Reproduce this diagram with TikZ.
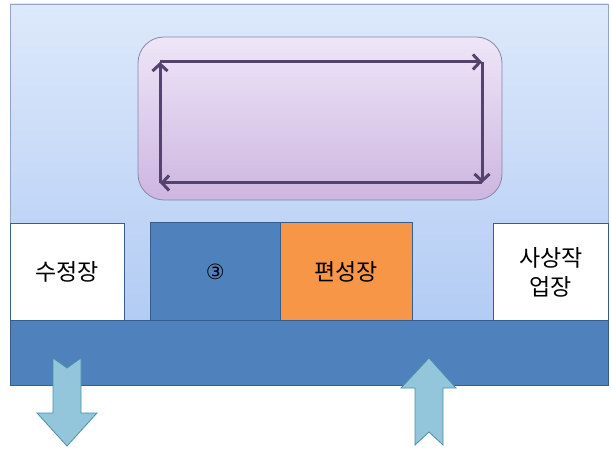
\documentclass[tikz,border=0pt]{standalone}
\usepackage{fontspec}
\setmainfont{Noto Sans CJK KR}
\newfontfamily\symfont{DejaVu Sans}
\usetikzlibrary{arrows.meta}
\definecolor{panelTop}{HTML}{DDE9FB}
\definecolor{panelBot}{HTML}{B3CCF4}
\definecolor{panelEdge}{HTML}{8FA6C8}
\definecolor{purpTop}{HTML}{EEE6F8}
\definecolor{purpBot}{HTML}{CDB6E0}
\definecolor{purpEdge}{HTML}{8E84A8}
\definecolor{loopCol}{HTML}{54426F}
\definecolor{accBlue}{HTML}{4F81BD}
\definecolor{accBlueEdge}{HTML}{385D8A}
\definecolor{accOrange}{HTML}{F79646}
\definecolor{arrFill}{HTML}{93C6DA}
\definecolor{arrEdge}{HTML}{4A8FA8}
\tikzset{
  whitebox/.style={fill=white,draw=accBlueEdge,line width=0.8pt},
  bluebox/.style={fill=accBlue,draw=accBlueEdge,line width=0.8pt},
  orangebox/.style={fill=accOrange,draw=accBlueEdge,line width=0.8pt},
  boxlabel/.style={font=\fontsize{23}{27}\selectfont,align=center,text=black},
  looparrow/.style={draw=loopCol,line width=3pt,-{Straight Barb[length=7pt,width=15pt]}},
  fatarrow/.style={fill=arrFill,draw=arrEdge,line width=0.8pt},
}
\begin{document}
\begin{tikzpicture}[x=1pt,y=-1pt]
\useasboundingbox (0,0) rectangle (611,449);
\fill[white] (0,0) rectangle (611,449);
% outer panel
\shade[top color=panelTop,bottom color=panelBot] (10,4) rectangle (608,320);
\draw[panelEdge,line width=0.8pt] (10,4) rectangle (608,320);
% purple rounded box
\shade[top color=purpTop,bottom color=purpBot,rounded corners=26pt] (138,37) rectangle (502,200);
\draw[purpEdge,line width=0.8pt,rounded corners=26pt] (138,37) rectangle (502,200);
% loop arrows
\coordinate (tl) at (160,62);
\coordinate (tr) at (482,62);
\coordinate (br) at (482,183);
\coordinate (bl) at (160,183);
\draw[looparrow] (tl) -- (tr);
\draw[looparrow] (tr) -- (br);
\draw[looparrow] (br) -- (bl);
\draw[looparrow] (bl) -- (tl);
% boxes
\node[whitebox,minimum width=114pt,minimum height=97pt,anchor=north west,inner sep=0pt] (sj) at (10,223) {};
\node[boxlabel] at (sj.center) {수정장};
\node[bluebox,minimum width=130pt,minimum height=98pt,anchor=north west,inner sep=0pt] (b3) at (150,222) {};
\node[boxlabel] at (b3.center) {\symfont\fontsize{21}{24}\selectfont ③};
\node[orangebox,minimum width=132pt,minimum height=98pt,anchor=north west,inner sep=0pt] (ps) at (280,222) {};
\node[boxlabel] at (ps.center) {편성장};
\node[whitebox,minimum width=115pt,minimum height=97pt,anchor=north west,inner sep=0pt] (ss) at (493,223) {};
\node[boxlabel,font=\fontsize{23}{29}\selectfont] at (ss.center) {사상작\\업장};
% bar
\node[bluebox,minimum width=598pt,minimum height=65pt,anchor=north west,inner sep=0pt] (bar) at (10,320) {};
% down arrow (notched top)
\draw[fatarrow] (53,358) -- (67,368) -- (81,358) -- (81,413) -- (97,413) -- (67,446) -- (37,413) -- (53,413) -- cycle;
% up arrow (notched bottom)
\draw[fatarrow] (429,358) -- (456,388) -- (443,388) -- (443,445) -- (429,432) -- (415,445) -- (415,388) -- (401,388) -- cycle;
\end{tikzpicture}
\end{document}
